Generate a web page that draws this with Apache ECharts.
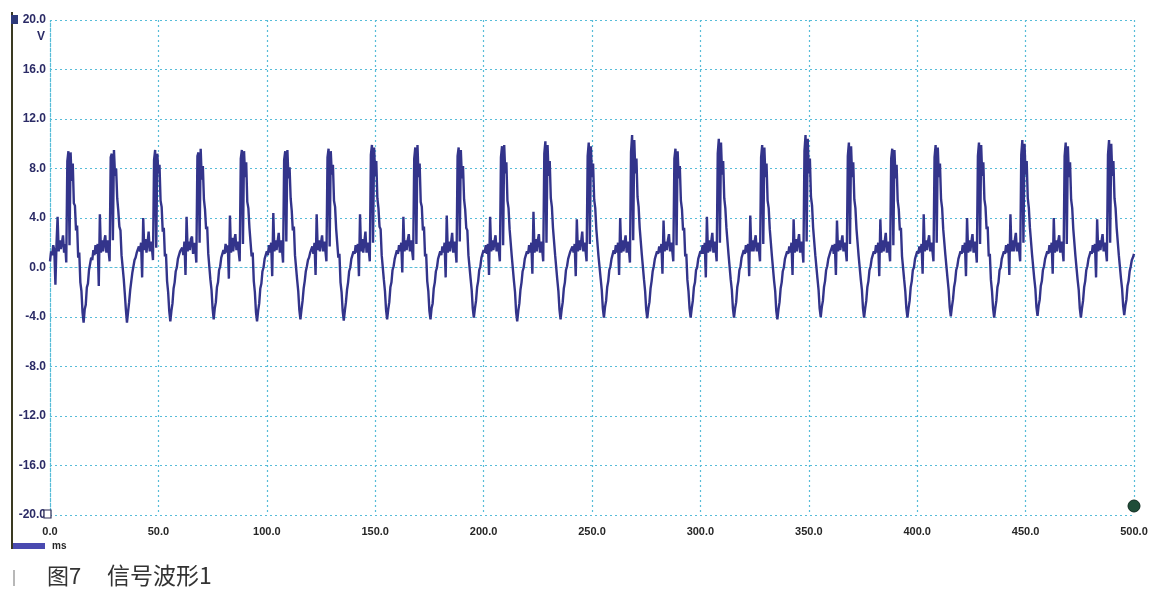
<!DOCTYPE html>
<html>
<head>
<meta charset="utf-8">
<script src="https://cdn.jsdelivr.net/npm/echarts@6/dist/echarts.min.js"></script>
<style>
html,body{margin:0;padding:0;background:#fff;}
#chart{width:1164px;height:601px;}
</style>
</head>
<body>
<div id="chart"></div>
<script>
// ---- data ----
const sampleStepMs = 0.5;           // oscilloscope sample interval
const xTicks = [0, 50, 100, 150, 200, 250, 300, 350, 400, 450, 500];
const yTicks = [-20, -16, -12, -8, -4, 0, 4, 8, 12, 16, 20];
const xUnit = 'ms';
const yUnit = 'V';
const caption = ['图7', '信号波形1'];

// samples 0 .. 7.5 ms (tail of the cycle before the first peak)
const leadIn = [0.5, 1.3, 1.0, 1.8, 1.4, -1.4, 1.9, 4.1, 1.3, 2.2, 1.5, 2.0, 2.6, 1.2, 1.9, 0.4];

// one row per 20 ms cycle, 0.5 ms samples, starting at each rising edge
const cycles = [
  [8.6, 9.4, 1.8, 9.3, 7.0, 8.4, 5.2, 5.0, 3.0, 3.4, 0.8, 1.2, -1.2, -1.9, -3.6, -4.45, -3.4, -3.0, -1.6, -1.3, -0.2, -0.1, 0.8, 0.6, 1.4, 1.0, 1.8, 1.1, 1.9, -1.5, 4.3, 1.2, 2.2, 1.3, 2.1, 2.6, 1.2, 2.2, 1.4, 0.5],
  [8.9, 9.2, 2.2, 9.5, 7.4, 8.0, 5.6, 4.6, 3.3, 3.0, 1.0, 0.9, -0.9, -2.1, -3.4, -4.45, -3.6, -2.8, -1.8, -1.1, -0.4, 0.1, 0.6, 0.8, 1.2, 1.1, 1.7, 1.3, 2.0, -0.8, 4.0, 1.4, 2.3, 1.2, 2.0, 2.9, 1.3, 2.1, 1.6, 0.6],
  [8.7, 9.5, 1.6, 9.2, 7.6, 8.3, 5.4, 4.9, 2.9, 3.2, 0.9, 1.1, -1.1, -2.0, -3.5, -4.35, -3.5, -2.9, -1.7, -1.2, -0.3, 0.0, 0.7, 0.7, 1.3, 1.2, 1.6, 1.0, 2.1, -0.6, 4.1, 1.3, 2.1, 1.4, 2.3, 2.5, 1.1, 2.0, 1.5, 0.4],
  [9.0, 9.3, 2.0, 9.6, 7.1, 8.2, 5.5, 4.7, 3.1, 3.3, 1.1, 1.0, -1.0, -1.8, -3.3, -4.2, -3.3, -2.8, -1.6, -1.2, -0.2, 0.1, 0.8, 0.7, 1.4, 1.1, 1.9, 1.2, 1.8, -0.9, 4.2, 1.2, 2.4, 1.3, 2.2, 2.7, 1.4, 2.1, 1.3, 0.5],
  [8.8, 9.5, 1.9, 9.4, 7.3, 8.5, 5.3, 4.8, 3.2, 3.1, 0.9, 1.2, -1.1, -2.0, -3.6, -4.35, -3.5, -2.9, -1.7, -1.3, -0.3, 0.0, 0.7, 0.6, 1.3, 1.0, 1.8, 1.2, 2.0, -0.7, 4.4, 1.3, 2.2, 1.4, 2.1, 2.8, 1.2, 2.2, 1.5, 0.4],
  [8.7, 9.4, 2.1, 9.5, 7.2, 8.1, 5.6, 4.6, 3.0, 3.3, 1.0, 1.0, -1.0, -1.9, -3.4, -4.2, -3.4, -2.7, -1.7, -1.1, -0.3, 0.1, 0.6, 0.8, 1.2, 1.2, 1.7, 1.1, 2.0, -0.6, 4.3, 1.4, 2.2, 1.3, 2.0, 2.6, 1.3, 2.1, 1.4, 0.5],
  [8.9, 9.6, 1.7, 9.4, 7.5, 8.3, 5.4, 4.9, 3.1, 3.2, 0.8, 1.1, -1.2, -2.0, -3.5, -4.3, -3.5, -2.8, -1.8, -1.2, -0.3, 0.0, 0.7, 0.7, 1.3, 1.1, 1.8, 1.2, 1.9, -0.7, 4.3, 1.3, 2.3, 1.2, 2.1, 2.9, 1.2, 2.0, 1.5, 0.5],
  [9.1, 9.9, 2.0, 9.7, 7.4, 8.6, 5.6, 4.8, 3.3, 3.1, 1.0, 1.0, -1.0, -1.9, -3.4, -4.2, -3.4, -2.8, -1.6, -1.2, -0.2, 0.1, 0.7, 0.7, 1.4, 1.1, 1.8, 1.3, 2.0, -0.4, 4.1, 1.3, 2.2, 1.4, 2.2, 2.7, 1.3, 2.2, 1.4, 0.6],
  [8.8, 9.7, 1.9, 9.9, 7.3, 8.4, 5.3, 4.9, 3.0, 3.3, 0.9, 1.1, -1.1, -1.9, -3.5, -4.2, -3.3, -2.9, -1.7, -1.2, -0.3, 0.0, 0.7, 0.6, 1.3, 1.0, 1.7, 1.2, 2.0, -0.8, 4.2, 1.2, 2.1, 1.3, 2.0, 2.8, 1.2, 2.1, 1.5, 0.4],
  [9.0, 9.7, 2.1, 9.5, 7.2, 8.2, 5.5, 4.7, 3.2, 3.0, 1.0, 0.9, -0.9, -1.8, -3.3, -4.05, -3.3, -2.7, -1.6, -1.1, -0.2, 0.1, 0.8, 0.7, 1.4, 1.2, 1.8, 1.1, 1.9, -0.6, 4.1, 1.3, 2.2, 1.4, 2.1, 2.6, 1.3, 2.0, 1.4, 0.5],
  [8.9, 9.8, 1.8, 9.9, 7.6, 8.5, 5.4, 4.8, 3.1, 3.2, 0.9, 1.0, -1.1, -2.0, -3.6, -4.35, -3.5, -2.9, -1.8, -1.2, -0.3, 0.0, 0.7, 0.7, 1.3, 1.1, 1.8, 1.2, 2.0, -0.5, 4.5, 1.2, 2.3, 1.3, 2.2, 2.7, 1.2, 2.1, 1.5, 0.5],
  [9.2, 10.2, 2.0, 9.9, 7.4, 8.6, 5.6, 4.9, 3.2, 3.3, 1.0, 1.1, -1.0, -1.9, -3.4, -4.2, -3.4, -2.8, -1.7, -1.2, -0.2, 0.1, 0.7, 0.8, 1.3, 1.2, 1.7, 1.2, 1.9, -0.7, 3.9, 1.3, 2.2, 1.4, 2.1, 2.9, 1.3, 2.0, 1.4, 0.5],
  [9.0, 10.1, 1.9, 9.8, 7.3, 8.4, 5.5, 4.8, 3.1, 3.2, 0.9, 1.0, -0.9, -1.8, -3.3, -4.05, -3.2, -2.7, -1.6, -1.1, -0.2, 0.1, 0.7, 0.7, 1.4, 1.1, 1.8, 1.2, 2.0, -0.6, 4.0, 1.2, 2.2, 1.3, 2.0, 2.6, 1.2, 2.1, 1.5, 0.4],
  [9.3, 10.7, 2.2, 10.3, 7.6, 8.8, 5.7, 4.9, 3.2, 3.3, 1.0, 1.0, -1.0, -1.9, -3.4, -4.1, -3.3, -2.8, -1.7, -1.1, -0.3, 0.1, 0.7, 0.7, 1.3, 1.1, 1.7, 1.2, 1.9, -0.5, 3.8, 1.3, 2.1, 1.4, 2.2, 2.7, 1.3, 2.0, 1.4, 0.5],
  [8.8, 9.6, 1.8, 9.4, 7.2, 8.2, 5.4, 4.7, 3.0, 3.2, 0.9, 1.1, -1.0, -1.9, -3.3, -4.05, -3.3, -2.7, -1.6, -1.2, -0.2, 0.0, 0.7, 0.7, 1.3, 1.1, 1.8, 1.1, 2.0, -0.8, 4.1, 1.2, 2.2, 1.3, 2.1, 2.8, 1.2, 2.1, 1.5, 0.5],
  [9.2, 10.4, 2.0, 10.1, 7.5, 8.6, 5.6, 4.8, 3.2, 3.2, 1.0, 1.0, -1.0, -1.8, -3.3, -4.05, -3.3, -2.8, -1.6, -1.1, -0.2, 0.1, 0.8, 0.7, 1.4, 1.1, 1.8, 1.2, 1.9, -0.7, 4.2, 1.3, 2.2, 1.3, 2.1, 2.6, 1.3, 2.0, 1.4, 0.5],
  [8.9, 9.9, 1.9, 9.7, 7.3, 8.4, 5.4, 4.8, 3.1, 3.2, 0.9, 1.0, -1.1, -1.9, -3.5, -4.2, -3.4, -2.8, -1.7, -1.2, -0.3, 0.0, 0.7, 0.7, 1.3, 1.1, 1.7, 1.2, 2.0, -0.6, 3.9, 1.2, 2.3, 1.3, 2.1, 2.7, 1.2, 2.1, 1.5, 0.4],
  [9.4, 10.7, 2.1, 10.4, 7.6, 8.8, 5.7, 5.0, 3.2, 3.3, 1.0, 1.1, -0.9, -1.8, -3.3, -4.0, -3.2, -2.7, -1.6, -1.1, -0.2, 0.1, 0.7, 0.8, 1.3, 1.2, 1.8, 1.1, 1.9, -0.6, 3.8, 1.3, 2.2, 1.4, 2.0, 2.6, 1.3, 2.0, 1.4, 0.5],
  [9.0, 10.1, 1.9, 9.8, 7.3, 8.5, 5.5, 4.8, 3.1, 3.2, 0.9, 1.0, -1.0, -1.8, -3.3, -4.05, -3.3, -2.7, -1.6, -1.1, -0.2, 0.1, 0.7, 0.7, 1.3, 1.1, 1.8, 1.2, 2.0, -0.7, 3.9, 1.2, 2.2, 1.3, 2.1, 2.8, 1.2, 2.1, 1.5, 0.5],
  [8.8, 9.6, 1.8, 9.5, 7.2, 8.3, 5.4, 4.7, 3.0, 3.2, 0.9, 1.0, -1.0, -1.9, -3.3, -4.05, -3.3, -2.7, -1.6, -1.1, -0.2, 0.0, 0.7, 0.7, 1.3, 1.1, 1.7, 1.2, 1.9, -0.5, 4.3, 1.3, 2.2, 1.4, 2.1, 2.6, 1.3, 2.0, 1.4, 0.5],
  [8.9, 9.9, 2.0, 9.7, 7.3, 8.4, 5.5, 4.8, 3.1, 3.2, 1.0, 1.0, -0.9, -1.8, -3.2, -3.95, -3.2, -2.6, -1.6, -1.1, -0.2, 0.1, 0.7, 0.7, 1.3, 1.1, 1.8, 1.2, 2.0, -0.7, 4.0, 1.2, 2.2, 1.3, 2.1, 2.7, 1.2, 2.1, 1.5, 0.4],
  [9.0, 10.1, 1.9, 9.9, 7.4, 8.5, 5.5, 4.9, 3.1, 3.3, 0.9, 1.1, -1.0, -1.9, -3.3, -4.05, -3.3, -2.7, -1.6, -1.2, -0.2, 0.0, 0.7, 0.7, 1.3, 1.1, 1.8, 1.2, 1.9, -0.6, 4.3, 1.3, 2.2, 1.3, 2.2, 2.8, 1.3, 2.0, 1.4, 0.5],
  [9.1, 10.3, 2.0, 10.0, 7.5, 8.6, 5.6, 4.8, 3.2, 3.2, 1.0, 1.0, -0.9, -1.7, -3.2, -3.9, -3.1, -2.6, -1.5, -1.1, -0.2, 0.1, 0.7, 0.7, 1.3, 1.1, 1.8, 1.2, 2.0, -0.5, 4.0, 1.2, 2.2, 1.3, 2.1, 2.6, 1.2, 2.1, 1.5, 0.5],
  [9.0, 10.1, 1.9, 9.8, 7.3, 8.5, 5.5, 4.8, 3.1, 3.2, 0.9, 1.0, -1.0, -1.8, -3.3, -4.05, -3.3, -2.7, -1.6, -1.1, -0.2, 0.1, 0.7, 0.7, 1.3, 1.1, 1.8, 1.2, 1.9, -0.8, 3.9, 1.3, 2.2, 1.4, 2.1, 2.7, 1.3, 2.0, 1.4, 0.5],
  [9.1, 10.3, 2.0, 10.0, 7.4, 8.6, 5.6, 4.8, 3.2, 3.2, 1.0, 1.0, -0.9, -1.7, -3.1, -3.85, -3.1, -2.6, -1.5, -1.1, -0.3, 0.1, 0.6, 0.8, 1.1]
];

// ---- build series ----
const voltage = leadIn.concat(...cycles);
const seriesData = voltage.map((v, i) => [i * sampleStepMs, v]);

const gridColor = '#57bcd8';
const chart = echarts.init(document.getElementById('chart'), null, {renderer: 'canvas'});
const G = {left: 50, right: 30, top: 20, bottom: 86};

chart.setOption({
  backgroundColor: '#ffffff',
  animation: false,
  grid: {left: G.left, right: G.right, top: G.top, bottom: G.bottom, containLabel: false},
  xAxis: {
    type: 'value',
    min: xTicks[0], max: xTicks[xTicks.length - 1], interval: 50,
    axisLine: {show: true, lineStyle: {color: gridColor, type: [2, 3], width: 1.2}},
    axisTick: {show: false},
    splitLine: {show: true, lineStyle: {color: gridColor, type: [2, 3], width: 1.2}},
    axisLabel: {
      margin: 11, color: '#262626', fontSize: 11, fontWeight: 'bold',
      fontFamily: 'Liberation Sans, Arial, sans-serif',
      formatter: v => v.toFixed(1)
    }
  },
  yAxis: {
    type: 'value',
    min: yTicks[0], max: yTicks[yTicks.length - 1], interval: 4,
    axisLine: {show: true, lineStyle: {color: gridColor, type: [2, 3], width: 1.2}},
    axisTick: {show: false},
    splitLine: {show: true, lineStyle: {color: gridColor, type: [2, 3], width: 1.2}},
    axisLabel: {
      margin: 4, color: '#2b2b66', fontSize: 12, fontWeight: 'bold',
      fontFamily: 'Liberation Sans, Arial, sans-serif',
      formatter: v => v.toFixed(1)
    }
  },
  series: [{
    type: 'line',
    data: seriesData,
    showSymbol: false,
    symbol: 'none',
    smooth: false,
    sampling: null,
    lineStyle: {color: '#33348b', width: 2.4},
    z: 3
  }],
  graphic: [
    // left instrument rail
    {type: 'rect', shape: {x: 11, y: 12, width: 2, height: 537}, style: {fill: '#3a3a22'}},
    {type: 'rect', shape: {x: 11, y: 15, width: 7, height: 9}, style: {fill: '#2e3a7a'}},
    // unit labels
    {type: 'text', left: 37, top: 31, style: {text: yUnit, fill: '#2b2b66', font: 'bold 12px Liberation Sans, Arial, sans-serif'}},
    {type: 'rect', shape: {x: 13, y: 543, width: 32, height: 6}, style: {fill: '#4a4ab0'}},
    {type: 'text', left: 52, top: 541, style: {text: xUnit, fill: '#262626', font: 'bold 10px Liberation Sans, Arial, sans-serif'}},
    // cursor markers
    {type: 'rect', shape: {x: 44, y: 510, width: 7, height: 8}, style: {fill: '#ffffff', stroke: '#2b2b55', lineWidth: 1.2}, z: 10},
    {type: 'circle', shape: {cx: 1134, cy: 506, r: 6}, style: {fill: '#1f4d38', stroke: '#0f2a1e', lineWidth: 1}, z: 10},
    // caption
    {type: 'rect', shape: {x: 13, y: 570, width: 2, height: 16}, style: {fill: '#b8b8b8'}},
    {type: 'text', left: 47, top: 565, style: {text: caption[0], fill: '#333333', font: '22px "Noto Sans CJK SC", sans-serif'}},
    {type: 'text', left: 107, top: 564, style: {text: caption[1], fill: '#333333', font: '23px "Noto Sans CJK SC", sans-serif'}}
  ]
});
</script>
</body>
</html>
